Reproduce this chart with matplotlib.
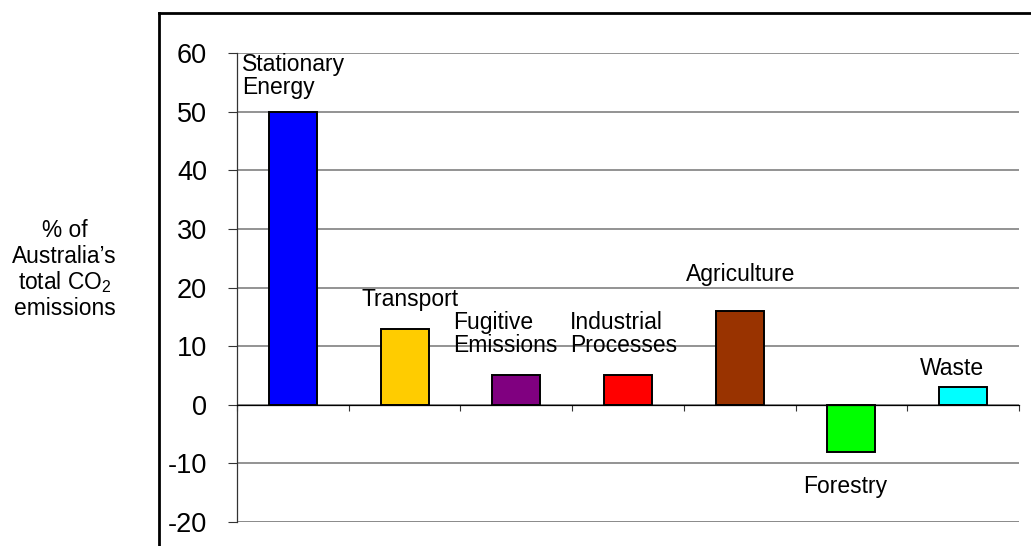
import numpy as np
import matplotlib
matplotlib.use("Agg")
import matplotlib.pyplot as plt
from matplotlib.lines import Line2D

plt.rcParams['font.family'] = ['Liberation Sans', 'DejaVu Sans']
plt.rcParams['mathtext.fontset'] = 'custom'
plt.rcParams['mathtext.rm'] = 'Liberation Sans'

# data
sectors = ["Stationary\nEnergy", "Transport", "Fugitive\nEmissions", "Industrial\nProcesses",
           "Agriculture", "Forestry", "Waste"]
share = [50, 13, 5, 5, 16, -8, 3]
colors = ["#0000FF", "#FFCC00", "#800080", "#FF0000", "#993300", "#00FF00", "#00FFFF"]
y_ticks = [-20, -10, 0, 10, 20, 30, 40, 50, 60]

# label anchors (left x, first baseline y) in data units
label_pos = [(-0.455, 57.0), (0.616, 16.9), (1.431, 13.0), (2.481, 13.0),
             (3.52, 21.1), (4.567, -15.0), (5.615, 5.1)]

W, H = 1031, 546
fig = plt.figure(figsize=(W / 100, H / 100), dpi=100)
ax = fig.add_axes([237 / W, 1 - 522 / H, 782 / W, 469 / H])

x = np.arange(len(sectors))
ax.bar(x, share, width=0.43, color=colors, edgecolor="black", linewidth=1.4, zorder=3)

ax.set_xlim(-0.5, len(sectors) - 0.5)
ax.set_ylim(-20, 60)
ax.set_yticks(y_ticks)
ax.set_yticklabels([str(v) for v in y_ticks], fontsize=19.5)
ax.set_xticks(np.arange(-0.5, len(sectors), 1))
ax.set_xticklabels([])

ax.yaxis.grid(True, color="#808080", linewidth=1.2, zorder=0)
ax.axhline(-20, color="black", linewidth=1.0, zorder=1)
ax.tick_params(axis="y", direction="out", length=6.5, width=0.8, color="#333333", pad=15)
ax.tick_params(axis="x", direction="out", length=4.5, width=0.8, color="#333333")

for side in ["top", "right"]:
    ax.spines[side].set_visible(False)
ax.spines["bottom"].set_position(("data", 0))
ax.spines["bottom"].set_linewidth(0.9)
ax.spines["bottom"].set_zorder(4)
ax.spines["left"].set_linewidth(0.9)
ax.spines["left"].set_color("#333333")

# category labels, one line at a time
line_step = 16.6  # points
for lab, (lx, ly) in zip(sectors, label_pos):
    for i, line in enumerate(lab.split("\n")):
        ax.annotate(line, (lx, ly), xytext=(0, -i * line_step), textcoords="offset points",
                    ha="left", va="baseline", fontsize=16.5, zorder=5)

# y label block
ylab_lines = ["% of", "Australia\u2019s", r"total CO$_\mathregular{2}$", "emissions"]
ylab_base = [237, 263, 289, 315]
for line, b in zip(ylab_lines, ylab_base):
    fig.text(64.5 / W, 1 - b / H, line, ha="center", va="baseline", fontsize=16.4)

# outer frame (top-left corner of a surrounding box)
fig.add_artist(Line2D([159 / W, 159 / W], [0, 1 - 13 / H], color="black", linewidth=2.0,
                      transform=fig.transFigure))
fig.add_artist(Line2D([159 / W, 1], [1 - 13 / H, 1 - 13 / H], color="black", linewidth=2.0,
                      transform=fig.transFigure))

fig.savefig("out.png", dpi=100)
